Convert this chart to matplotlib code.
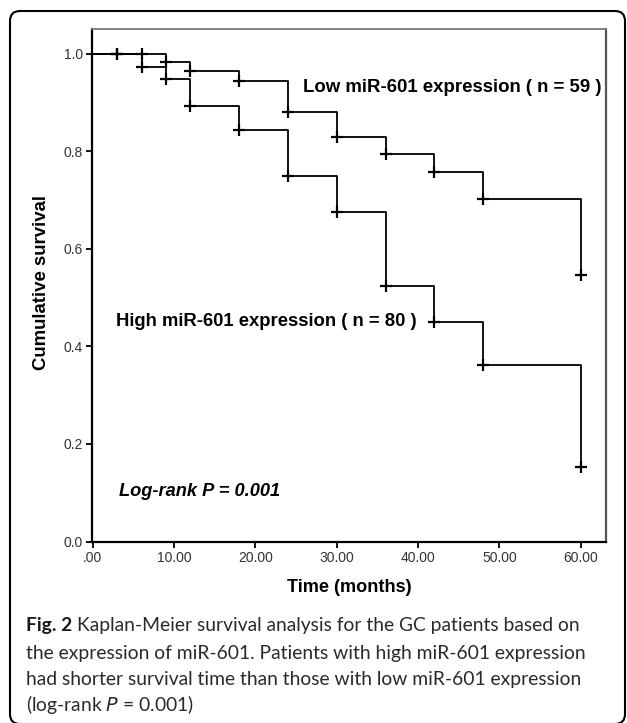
import matplotlib
matplotlib.use("Agg")
import matplotlib.pyplot as plt
from matplotlib.patches import FancyBboxPatch
from matplotlib.transforms import IdentityTransform

# ---- data ----
low_times = [0, 9, 12, 18, 24, 30, 36, 42, 48, 60]
low_surv = [1.0, 0.983, 0.964, 0.945, 0.880, 0.829, 0.794, 0.757, 0.702, 0.547]
low_cens_t = [3, 6, 9, 12, 18, 24, 30, 36, 42, 48, 60]
low_cens_s = [1.0, 1.0, 0.983, 0.964, 0.945, 0.880, 0.829, 0.794, 0.757, 0.702, 0.547]

high_times = [0, 6, 9, 12, 18, 24, 30, 36, 42, 48, 60]
high_surv = [1.0, 0.974, 0.948, 0.894, 0.843, 0.749, 0.675, 0.523, 0.451, 0.361, 0.153]
high_cens_t = [3, 6, 9, 12, 18, 24, 30, 36, 42, 48, 60]
high_cens_s = [1.0, 0.974, 0.948, 0.894, 0.843, 0.749, 0.675, 0.523, 0.451, 0.361, 0.153]

x_ticks = [0, 10, 20, 30, 40, 50, 60]
x_ticklabels = [".00", "10.00", "20.00", "30.00", "40.00", "50.00", "60.00"]
y_ticks = [0.0, 0.2, 0.4, 0.6, 0.8, 1.0]
y_ticklabels = ["0.0", "0.2", "0.4", "0.6", "0.8", "1.0"]

low_label = "Low miR-601 expression ( n = 59 )"
high_label = "High miR-601 expression ( n = 80 )"
pval_label = "Log-rank P = 0.001"
x_label = "Time (months)"
y_label = "Cumulative survival"
caption_lines = [
    "Kaplan-Meier survival analysis for the GC patients based on",
    "the expression of miR-601. Patients with high miR-601 expression",
    "had shorter survival time than those with low miR-601 expression",
]

W, H = 627, 723
fig = plt.figure(figsize=(W / 100, H / 100), dpi=100)
fig.patch.set_facecolor("white")
fig.canvas.draw()
renderer = fig.canvas.get_renderer()


def px(x0, y0):
    return x0 / W, 1 - y0 / H


def fit(t, target, dim="w"):
    for _ in range(3):
        bb = t.get_window_extent(renderer)
        cur = bb.width if dim == "w" else bb.height
        t.set_fontsize(t.get_fontsize() * target / cur)
    return t


ax = fig.add_axes([92 / W, 1 - 541.5 / H, (606 - 92) / W, (541.5 - 29) / H])
ax.set_xlim(-0.1, 63.1)
ax.set_ylim(0, 1.051)

line_kw = dict(color="black", lw=1.3, where="post")
ax.step(low_times, low_surv, **line_kw)
ax.step(high_times, high_surv, **line_kw)
ax.plot(low_cens_t, low_cens_s, ls="none", marker="+", ms=8, mew=1.6, color="black")
ax.plot(high_cens_t, high_cens_s, ls="none", marker="+", ms=8, mew=1.6, color="black")

ax.set_xticks(x_ticks)
ax.set_xticklabels(x_ticklabels)
ax.set_yticks(y_ticks)
ax.set_yticklabels(y_ticklabels)
ax.tick_params(direction="out", length=4.5, width=1.3, labelsize=10,
               labelcolor="#333333", color="black", pad=2)
for lab in ax.get_xticklabels() + ax.get_yticklabels():
    lab.set_family("Liberation Sans")

ax.spines["left"].set_linewidth(1.6)
ax.spines["bottom"].set_linewidth(1.6)
ax.spines["top"].set_color("#777777")
ax.spines["right"].set_color("#555555")
ax.spines["top"].set_linewidth(1.3)
ax.spines["right"].set_linewidth(1.6)

bold = dict(fontweight="bold", family="Liberation Sans", fontsize=13)
t = fig.text(*px(303, 87), low_label, va="center", ha="left", **bold)
fit(t, 299)
t = fig.text(*px(116, 322), high_label, va="center", ha="left", **bold)
fit(t, 301)
t = fig.text(*px(119, 492), pval_label, va="center", ha="left", style="italic", **bold)
fit(t, 162)
t = fig.text(*px(42, 283), y_label, rotation=90, va="center", ha="center", **bold)
fit(t, 177, dim="h")
t = fig.text(*px(349.5, 588), x_label, va="center", ha="center", **bold)
fit(t, 125)

# caption
cap_font = "Lato"
ccol = "#2a2a2a"
cx = 26
t2 = fig.text(*px(cx, 653), caption_lines[1], fontsize=13, family=cap_font,
              va="center", ha="left", color=ccol)
fit(t2, 559)
cs = t2.get_fontsize()
tb = fig.text(*px(cx, 626), "Fig. 2", fontsize=cs, fontweight="bold",
              family=cap_font, va="center", ha="left", color="#1a1a1a")
bb = tb.get_window_extent(renderer)
fig.text((bb.x1 + 5) / W, 1 - 626 / H, caption_lines[0], fontsize=cs,
         family=cap_font, va="center", ha="left", color=ccol)
fig.text(*px(cx, 679), caption_lines[2], fontsize=cs, family=cap_font,
         va="center", ha="left", color=ccol)
fig.text(*px(cx, 705), r"(log-rank $\mathit{P}$ = 0.001)", fontsize=cs,
         family=cap_font, va="center", ha="left", color=ccol)

# outer rounded frame
frame = FancyBboxPatch((10, -1), 615, H - 11 + 1,
                       boxstyle="round,pad=0,rounding_size=10",
                       transform=IdentityTransform(), fill=False,
                       edgecolor="black", lw=1.5)
fig.patches.append(frame)

fig.savefig("out.png", dpi=100)
